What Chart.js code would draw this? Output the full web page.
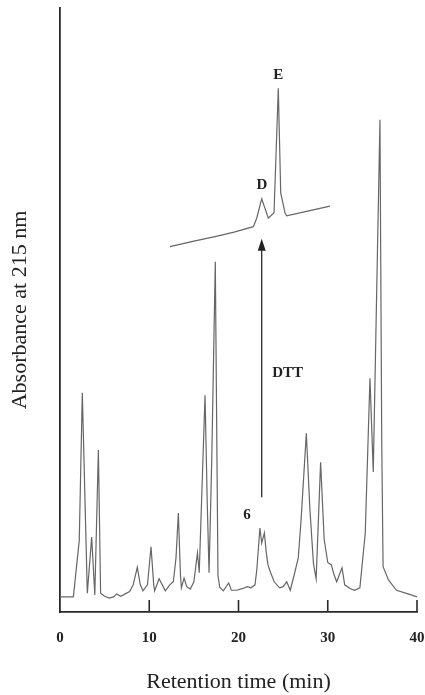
<!DOCTYPE html>
<html>
<head>
<meta charset="utf-8">
<script src="https://cdn.jsdelivr.net/npm/chart.js@4"></script>
<style>
  html, body { margin: 0; padding: 0; background: #fff; }
  #wrap { width: 425px; height: 695px; }
</style>
</head>
<body>
<div id="wrap"><canvas id="chroma"></canvas></div>
<script>
// hoofdchromatogram: retentietijd (min) en absorbantie (willekeurige eenheden, 0-100)
const mainTime = [0, 1.5, 2.16, 2.5, 3.06, 3.55, 3.9, 4.3, 4.55, 5.0, 5.5, 6.0, 6.35, 6.8, 7.3, 7.8,
  8.2, 8.66, 9.0, 9.3, 9.8, 10.2, 10.5, 10.6, 11.1, 11.8, 12.3, 12.7, 13.0, 13.26, 13.5, 13.6,
  13.9, 14.2, 14.6, 15.0, 15.4, 15.6, 15.9, 16.25, 16.5, 16.7, 17.0, 17.4, 17.7, 17.9,
  18.3, 18.9, 19.2, 19.8, 20.5, 21.0, 21.4, 21.85, 22.05, 22.4, 22.6, 22.9, 23.1, 23.3, 23.6,
  24.0, 24.6, 25.0, 25.4, 25.8, 26.3, 26.7, 27.0, 27.6, 28.0, 28.4, 28.7, 29.2, 29.6, 30.0,
  30.4, 30.7, 31.0, 31.6, 31.9, 32.5, 33.0, 33.6, 34.2, 34.73, 35.1, 35.85, 36.05,
  36.2, 36.8, 37.7, 39.0, 40.0];
const mainAbs = [2.5, 2.5, 11.9, 36.3, 3.1, 12.4, 2.8, 26.8, 3.1, 2.6, 2.3, 2.5, 3.0, 2.6, 3.0, 3.4,
  4.5, 7.4, 4.5, 3.5, 4.5, 10.8, 4.5, 3.5, 5.5, 3.5, 4.5, 5.0, 9.0, 16.4, 6.0, 4.0,
  5.6, 4.2, 3.8, 5.0, 9.8, 6.5, 20.0, 35.9, 18.0, 6.5, 25.0, 58.0, 6.0, 4.1,
  3.5, 4.8, 3.6, 3.6, 3.9, 4.2, 4.0, 4.5, 7.0, 13.9, 11.4, 13.1, 10.0, 7.8, 6.5,
  5.0, 4.0, 4.2, 5.0, 3.6, 6.5, 9.0, 15.0, 29.6, 17.0, 8.0, 5.5, 24.8, 12.0, 8.2,
  7.8, 6.2, 5.0, 7.3, 4.5, 3.9, 3.6, 4.0, 13.0, 38.7, 23.2, 81.5, 28.0,
  7.5, 5.3, 3.6, 3.0, 2.5];

// inzet: fractie 6 na DTT-behandeling (pieken D en E)
const insetTime = [12.32, 15.0, 17.5, 19.5, 21.66, 22.04, 22.6, 23.34, 23.98, 24.46, 24.73, 25.21, 25.4, 27.5, 30.25];
const insetAbs = [60.5, 61.4, 62.2, 62.9, 63.8, 65.2, 68.4, 65.2, 66.1, 86.7, 69.4, 66.1, 65.6, 66.3, 67.2];

const xTicks = [0, 10, 20, 30, 40];

const toPoints = (xs, ys) => xs.map((x, i) => ({ x: x, y: ys[i] }));

const serif = '"Liberation Serif", "Times New Roman", serif';

// labels en pijl in datacoordinaten
const notes = [
  { text: 'E', x: 24.45, y: 88.9 },
  { text: 'D', x: 22.62, y: 70.7 },
  { text: '6', x: 20.95, y: 16.1 },
  { text: 'DTT', x: 25.5, y: 39.6 }
];
const arrow = { x: 22.6, from: 19, to: 61.8 };

const extras = {
  id: 'extras',
  afterDraw(chart) {
    const { ctx, scales: { x, y } } = chart;
    ctx.save();
    // tick streepjes naar binnen
    ctx.strokeStyle = '#2a2a2a';
    ctx.lineWidth = 1.6;
    const base = y.getPixelForValue(0);
    xTicks.slice(1).forEach(t => {
      const px = x.getPixelForValue(t);
      ctx.beginPath();
      ctx.moveTo(px, base);
      ctx.lineTo(px, base - 12);
      ctx.stroke();
    });
    // pijl DTT
    const ax = x.getPixelForValue(arrow.x);
    const y0 = y.getPixelForValue(arrow.from);
    const y1 = y.getPixelForValue(arrow.to);
    ctx.lineWidth = 1.3;
    ctx.beginPath();
    ctx.moveTo(ax, y0);
    ctx.lineTo(ax, y1 + 10);
    ctx.stroke();
    ctx.fillStyle = '#222';
    ctx.beginPath();
    ctx.moveTo(ax, y1);
    ctx.lineTo(ax - 4, y1 + 12);
    ctx.lineTo(ax + 4, y1 + 12);
    ctx.closePath();
    ctx.fill();
    // teksten
    ctx.font = 'bold 15px ' + serif;
    ctx.textAlign = 'center';
    ctx.textBaseline = 'middle';
    notes.forEach(n => {
      ctx.fillText(n.text, x.getPixelForValue(n.x), y.getPixelForValue(n.y));
    });
    ctx.restore();
  }
};

const ctx = document.getElementById('chroma').getContext('2d');
new Chart(ctx, {
  type: 'line',
  data: {
    datasets: [
      {
        label: 'chromatogram',
        data: toPoints(mainTime, mainAbs),
        borderColor: '#666',
        borderWidth: 1.2,
        pointRadius: 0,
        tension: 0,
        fill: false
      },
      {
        label: 'na DTT',
        data: toPoints(insetTime, insetAbs),
        borderColor: '#666',
        borderWidth: 1.2,
        pointRadius: 0,
        tension: 0,
        fill: false
      }
    ]
  },
  options: {
    responsive: true,
    maintainAspectRatio: false,
    animation: false,
    events: [],
    layout: { padding: { top: 8, right: 8, left: 0, bottom: 0 } },
    plugins: {
      legend: { display: false },
      tooltip: { enabled: false }
    },
    scales: {
      x: {
        type: 'linear',
        min: 0,
        max: 40,
        afterBuildTicks: s => { s.ticks = xTicks.map(v => ({ value: v })); },
        afterFit: s => { s.height = 83; s.paddingLeft = 0; s.paddingRight = 0; },
        grid: { display: false, drawTicks: false },
        border: { display: true, color: '#2a2a2a', width: 1.8 },
        ticks: {
          padding: 17,
          color: '#222',
          font: { family: serif, size: 15, weight: 'bold' },
          maxRotation: 0
        },
        title: {
          display: true,
          text: 'Retention time (min)',
          color: '#222',
          font: { family: serif, size: 22 },
          padding: { top: 0, bottom: 0 }
        }
      },
      y: {
        min: 0,
        max: 100,
        afterFit: s => { s.width = 60; s.paddingTop = 0; s.paddingBottom = 0; },
        grid: { display: false, drawTicks: false },
        border: { display: true, color: '#2a2a2a', width: 1.8 },
        ticks: { display: false },
        title: {
          display: true,
          text: 'Absorbance at 215 nm',
          color: '#222',
          font: { family: serif, size: 22 },
          padding: { top: 7, bottom: 0 }
        }
      }
    }
  },
  plugins: [extras]
});
</script>
</body>
</html>
